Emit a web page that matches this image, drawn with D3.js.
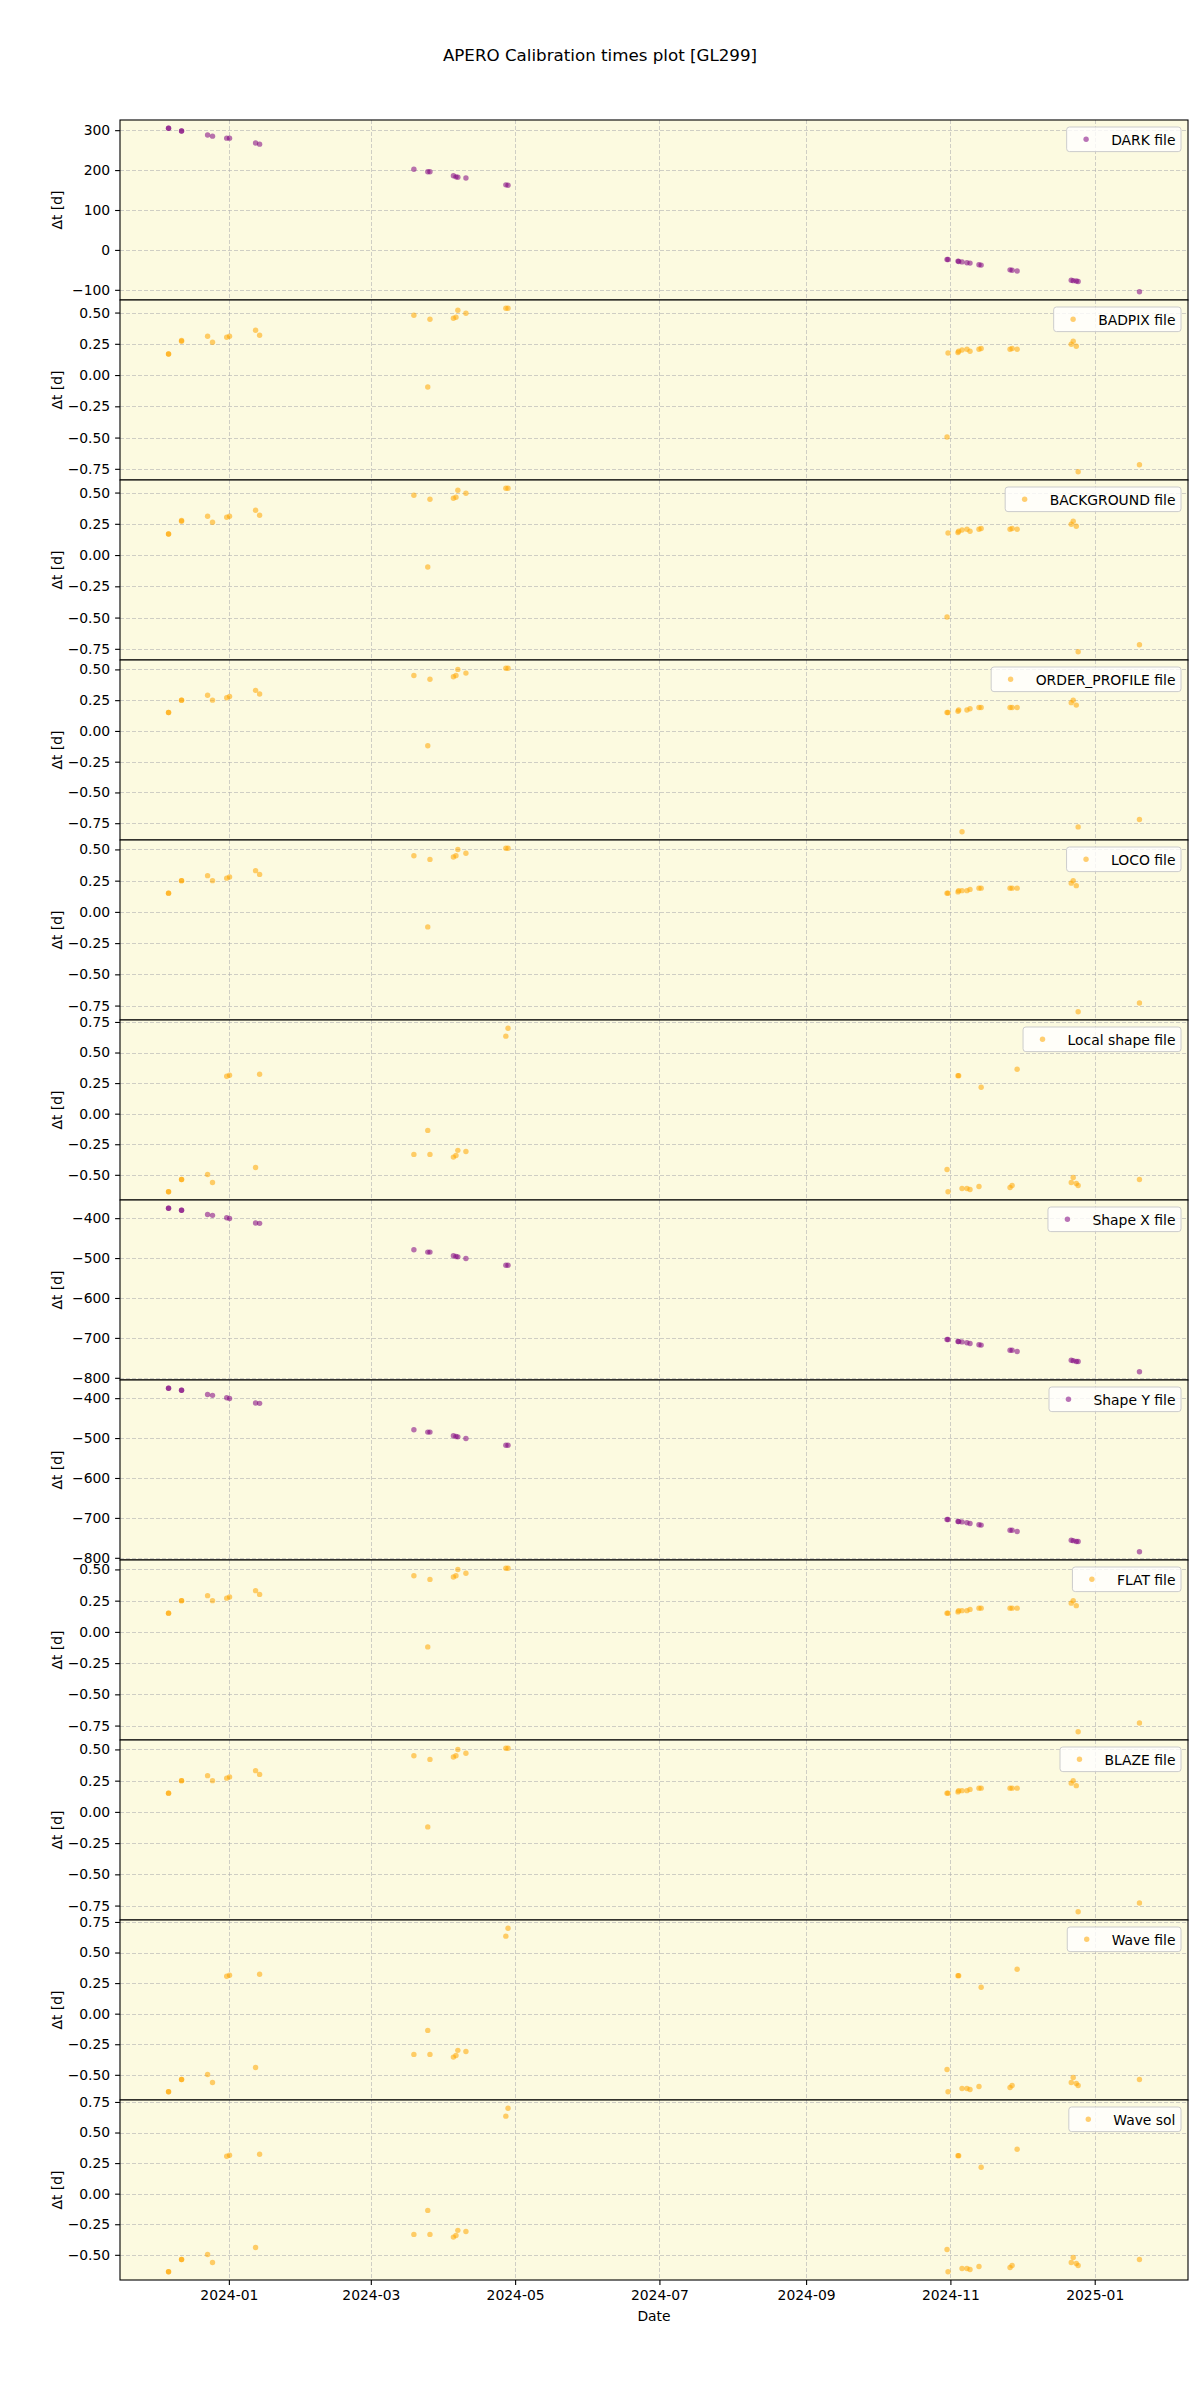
<!DOCTYPE html>
<html><head><meta charset="utf-8">
<script src="https://cdn.jsdelivr.net/npm/d3@7"></script>
<style>body{margin:0;background:#fff} svg{display:block} text{font-family:"DejaVu Sans",sans-serif;fill:#000}</style>
</head><body><div id="chart"></div>
<script>
// Observation dates (shared by all panels)
const obsDates = [
"2023-12-06T12:00","2023-12-06T12:00","2023-12-12T00:00","2023-12-12T00:00","2023-12-23T00:00","2023-12-25T02:00",
"2023-12-31T02:00","2024-01-01T07:00","2024-01-12T07:00","2024-01-14T00:00",
"2024-03-19T05:00","2024-03-25T02:00","2024-03-26T00:00","2024-04-04T22:00","2024-04-06T00:00","2024-04-06T19:00",
"2024-04-10T05:00","2024-04-27T02:00","2024-04-28T00:00",
"2024-10-30T14:00","2024-10-31T00:00","2024-11-04T05:00","2024-11-04T12:00","2024-11-05T22:00","2024-11-08T00:00",
"2024-11-09T07:00","2024-11-13T02:00","2024-11-14T00:00","2024-11-26T05:00","2024-11-27T02:00","2024-11-29T05:00",
"2024-12-22T02:00","2024-12-22T22:00","2024-12-24T05:00","2024-12-25T00:00","2025-01-19T22:00"];

const panelNames = ["DARK file","BADPIX file","BACKGROUND file","ORDER_PROFILE file","LOCO file","Local shape file",
"Shape X file","Shape Y file","FLAT file","BLAZE file","Wave file","Wave sol"];
const panelColors = ["purple","orange","orange","orange","orange","orange","purple","purple","orange","orange","orange","orange"];

const darkValues = [305,305,298,298,288,285,280,280,268,265,202,196,196,186,183,182,180,163,162,
-24,-24,-28,-29,-30,-32,-33,-37,-38,-50,-51,-53,-76,-77,-78,-79,-105];
const badpixValues = [0.168,0.168,0.277,0.27,0.311,0.263,0.303,0.311,0.359,0.319,
0.479,-0.096,0.447,0.455,0.463,0.519,0.495,0.535,0.535,
-0.495,0.176,0.18,0.19,0.20,0.207,0.19,0.207,0.213,0.207,0.213,0.207,0.247,0.271,0.231,-0.774,-0.718];
const backgroundValues = [0.168,0.168,0.277,0.27,0.311,0.263,0.303,0.311,0.359,0.319,
0.479,-0.096,0.447,0.455,0.463,0.519,0.495,0.535,0.535,
-0.495,0.176,0.18,0.19,0.20,0.207,0.19,0.207,0.213,0.207,0.213,0.207,0.247,0.271,0.231,-0.774,-0.718];
const orderProfileValues = [0.15,0.15,0.25,0.25,0.29,0.25,0.27,0.28,0.33,0.30,
0.45,-0.12,0.42,0.44,0.45,0.50,0.47,0.51,0.51,
0.15,0.15,0.16,0.17,-0.82,0.17,0.18,0.19,0.19,0.19,0.19,0.19,0.23,0.25,0.21,-0.78,-0.72];
const locoValues = [0.15,0.15,0.25,0.25,0.29,0.25,0.27,0.28,0.33,0.30,
0.45,-0.12,0.42,0.44,0.45,0.50,0.47,0.51,0.51,
0.15,0.15,0.16,0.17,0.17,0.17,0.18,0.19,0.19,0.19,0.19,0.19,0.23,0.25,0.21,-0.80,-0.73];
const localShapeValues = [-0.639,-0.639,-0.538,-0.538,-0.497,-0.563,0.306,0.314,-0.44,0.322,
-0.333,-0.137,-0.333,-0.355,-0.342,-0.30,-0.309,0.634,0.699,
-0.456,-0.639,0.311,0.311,-0.612,-0.612,-0.620,-0.596,0.216,-0.604,-0.587,0.363,-0.563,-0.522,-0.571,-0.587,-0.538];
const shapeXValues = [-375,-375,-380,-380,-391,-393,-399,-401,-412,-413,
-479,-485,-485,-494,-496,-497,-501,-518,-518,
-704,-704,-709,-709,-710,-712,-714,-717,-718,-731,-731,-734,-756,-757,-759,-759,-785];
const shapeYValues = [-375,-375,-380,-380,-391,-393,-399,-401,-412,-413,
-479,-485,-485,-494,-496,-497,-501,-518,-518,
-704,-704,-709,-709,-710,-712,-714,-717,-718,-731,-731,-734,-756,-757,-759,-759,-785];
const flatValues = [0.15,0.15,0.25,0.25,0.29,0.25,0.27,0.28,0.33,0.30,
0.45,-0.12,0.42,0.44,0.45,0.50,0.47,0.51,0.51,
0.15,0.15,0.16,0.17,0.17,0.17,0.18,0.19,0.19,0.19,0.19,0.19,0.23,0.25,0.21,-0.80,-0.73];
const blazeValues = [0.15,0.15,0.25,0.25,0.29,0.25,0.27,0.28,0.33,0.30,
0.45,-0.12,0.42,0.44,0.45,0.50,0.47,0.51,0.51,
0.15,0.15,0.16,0.17,0.17,0.17,0.18,0.19,0.19,0.19,0.19,0.19,0.23,0.25,0.21,-0.80,-0.73];
const waveFileValues = localShapeValues.slice();
const waveSolValues = localShapeValues.slice();

const xTickDates = ["2024-01-01","2024-03-01","2024-05-01","2024-07-01","2024-09-01","2024-11-01","2025-01-01"];
const yTicksDark = [-100,0,100,200,300];
const yTicksFrac = [-0.75,-0.5,-0.25,0,0.25,0.5,0.75];
const yTicksShape = [-800,-700,-600,-500,-400];

const panelValues = [darkValues,badpixValues,backgroundValues,orderProfileValues,locoValues,localShapeValues,
shapeXValues,shapeYValues,flatValues,blazeValues,waveFileValues,waveSolValues];
const panelTicks = [yTicksDark,yTicksFrac,yTicksFrac,yTicksFrac,yTicksFrac,yTicksFrac,yTicksShape,yTicksShape,yTicksFrac,yTicksFrac,yTicksFrac,yTicksFrac];

// ---- layout ----
const W = 1200, H = 2400;
const L = 120, R = 1188, T = 120, PH = 180;
const parse = d3.isoParse;
const dates = obsDates.map(s => parse(s));
const colorMap = {purple:"#800080", orange:"#ffa500"};

const svg = d3.select("#chart").append("svg").attr("width",W).attr("height",H);
svg.append("rect").attr("width",W).attr("height",H).attr("fill","#fff");

const ext = d3.extent(dates);
const span = ext[1]-ext[0];
const x = d3.scaleTime().domain([new Date(+ext[0]-0.05*span), new Date(+ext[1]+0.05*span)]).range([L,R]);
const fmtTick = v => { const s = d3.format("")(v); return s; };

svg.append("text").attr("x",600).attr("y",61).attr("text-anchor","middle").attr("font-size",16.7)
  .text("APERO Calibration times plot [GL299]");

panelNames.forEach((name,i) => {
  const top = T + i*PH, bot = top + PH;
  const vals = panelValues[i];
  const e = d3.extent(vals), r = e[1]-e[0];
  const y = d3.scaleLinear().domain([e[0]-0.05*r, e[1]+0.05*r]).range([bot, top]);
  const g = svg.append("g");
  g.append("rect").attr("x",L).attr("y",top).attr("width",R-L).attr("height",PH).attr("fill","#fcfae0");
  // grid
  const isFrac = panelTicks[i] === yTicksFrac;
  const ticks = panelTicks[i].filter(t => t >= y.domain()[0] && t <= y.domain()[1]);
  const grid = g.append("g").attr("stroke","#b0b0b0").attr("stroke-opacity",0.6).attr("stroke-width",1).attr("stroke-dasharray","4,2");
  xTickDates.forEach(s => { const xx = Math.round(x(parse(s)))+0.5; grid.append("line").attr("x1",xx).attr("x2",xx).attr("y1",top).attr("y2",bot); });
  ticks.forEach(t => { const yy = Math.round(y(t))+0.5; grid.append("line").attr("x1",L).attr("x2",R).attr("y1",yy).attr("y2",yy); });
  // y axis
  const yAxis = d3.axisLeft(y).tickValues(ticks).tickSize(4.9).tickPadding(4.9)
     .tickFormat(t => (isFrac ? d3.format(".2f")(t) : d3.format("d")(t)).replace("-","\u2212"));
  const ya = g.append("g").attr("transform",`translate(${L},0)`).call(yAxis);
  ya.select(".domain").remove();
  ya.selectAll("line").attr("stroke","#000").attr("stroke-width",1.1);
  ya.selectAll("text").attr("font-size",13.9).attr("font-family","DejaVu Sans").attr("fill","#000");
  // y label
  g.append("text").attr("transform",`translate(58,${top+PH/2}) rotate(-90)`).attr("text-anchor","middle")
    .attr("dominant-baseline","middle").attr("font-size",13.9).text("\u0394t [d]");
  // points
  const col = colorMap[panelColors[i]];
  g.append("g").selectAll("circle").data(vals).join("circle")
    .attr("cx",(d,k)=>x(dates[k])).attr("cy",d=>y(d)).attr("r",2.7)
    .attr("fill",col).attr("fill-opacity",0.55);
  // x ticks marks on bottom of each panel
  if (i === panelNames.length-1) {
    const xAxis = d3.axisBottom(x).tickValues(xTickDates.map(parse)).tickSize(4.9).tickPadding(4.9).tickFormat(d3.timeFormat("%Y-%m"));
    const xa = g.append("g").attr("transform",`translate(0,${bot})`).call(xAxis);
    xa.select(".domain").remove();
    xa.selectAll("line").attr("stroke","#000").attr("stroke-width",1.1);
    xa.selectAll("text").attr("font-size",13.9).attr("font-family","DejaVu Sans").attr("fill","#000");
    g.append("text").attr("x",(L+R)/2).attr("y",bot+41).attr("text-anchor","middle").attr("font-size",13.9).text("Date");
  }
  // frame
  g.append("rect").attr("x",L).attr("y",top).attr("width",R-L).attr("height",PH)
    .attr("fill","none").attr("stroke","#000").attr("stroke-width",1.1);
  // legend
  const lg = g.append("g");
  const txt = lg.append("text").attr("font-size",13.9).attr("dominant-baseline","central").text(name);
  const tw = txt.node().getComputedTextLength();
  const fs = 13.9, pad = 0.4*fs, hl = 2*fs, htp = 0.8*fs;
  const bw = pad + hl + htp + tw + pad, bh = 24.6;
  const bx = R - 7 - bw, by = top + 7;
  lg.insert("rect","text").attr("x",bx).attr("y",by).attr("width",bw).attr("height",bh).attr("rx",2.8)
    .attr("fill","#fff").attr("fill-opacity",0.8).attr("stroke","#cccccc").attr("stroke-width",1);
  txt.attr("x",bx+pad+hl+htp).attr("y",by+bh/2+0.5);
  lg.append("circle").attr("cx",bx+pad+hl/2).attr("cy",by+bh/2).attr("r",2.7).attr("fill",col).attr("fill-opacity",0.55);
});
</script>
</body></html>
